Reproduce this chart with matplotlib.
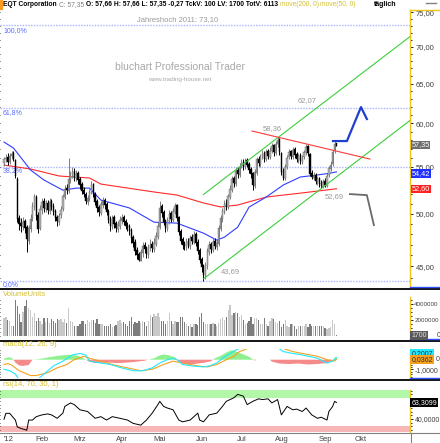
import numpy as np
import matplotlib
matplotlib.use("Agg")
import matplotlib.pyplot as plt
from matplotlib.lines import Line2D
from matplotlib.patches import Rectangle
from matplotlib.ticker import FixedLocator, FuncFormatter, NullFormatter

plt.rcParams['font.family'] = ['Liberation Sans', 'DejaVu Sans']

# --- daily OHLC, EQT Corporation, Jan - Sep 2012 ---
opens = [55.4, 55.8, 56.1, 55.5, 56.2, 56.5, 55.7, 53.6, 49.6, 49.1,
         48.7, 49.3, 48.7, 47.4, 48.5, 49.6, 50.7, 51.7, 49.9, 48.6,
         50.4, 51.3, 50.5, 51.1, 50.3, 51.3, 50.8, 50.3, 49.7, 49.2,
         49.9, 50.5, 51.7, 52.7, 52.4, 53.5, 54.1, 54.5, 53.7, 54.3,
         53.6, 53.1, 52.5, 52.1, 51.2, 51.5, 52.2, 53.1, 52.1, 51.3,
         50.7, 50.1, 50.9, 51.4, 51.0, 50.3, 49.5, 48.7, 49.7, 49.1,
         48.5, 48.8, 49.3, 49.7, 49.3, 48.9, 48.8, 48.4, 47.7, 47.3,
         46.5, 46.1, 45.5, 46.2, 47.0, 46.7, 46.0, 46.7, 47.1, 46.6,
         47.1, 47.7, 48.7, 50.8, 50.2, 49.3, 48.5, 49.3, 50.1, 49.4,
         50.2, 50.9, 49.7, 48.3, 47.5, 47.1, 46.8, 47.4, 46.9, 47.7,
         47.3, 48.0, 47.3, 46.5, 45.7, 45.0, 44.1, 45.0, 46.3, 47.1,
         46.5, 47.4, 46.8, 47.1, 48.5, 49.5, 50.2, 51.1, 50.7, 51.7,
         52.5, 53.7, 53.1, 54.6, 54.1, 55.1, 55.5, 54.9, 55.7, 55.3,
         54.7, 54.3, 52.9, 54.3, 55.9, 55.3, 56.1, 56.5, 55.8, 56.7,
         56.1, 56.7, 57.4, 56.5, 57.5, 58.1, 56.5, 54.5, 53.7, 54.9,
         56.1, 56.7, 56.1, 57.0, 56.4, 55.7, 56.3, 55.5, 56.1, 56.5,
         57.3, 56.4, 54.3, 53.8, 54.1, 53.3, 53.7, 53.2, 52.8, 53.4,
         52.9, 54.1, 54.7, 55.3, 56.7, 57.66]
highs = [56.1, 56.4, 56.5, 56.5, 56.8, 56.7, 55.9, 53.9, 49.9, 49.6,
         49.7, 49.5, 48.9, 48.9, 50.0, 51.2, 52.1, 51.9, 50.2, 50.9,
         51.6, 51.6, 51.4, 51.4, 51.6, 51.5, 51.1, 50.5, 49.9, 50.1,
         50.8, 52.1, 53.0, 53.1, 56.0, 54.5, 54.9, 54.8, 54.6, 54.5,
         53.9, 53.3, 52.8, 52.3, 51.9, 52.6, 53.4, 53.2, 52.3, 51.5,
         50.9, 51.3, 51.7, 51.6, 51.2, 50.5, 49.8, 49.9, 49.9, 49.3,
         49.3, 49.8, 50.0, 49.9, 49.5, 49.2, 49.0, 48.6, 47.9, 47.5,
         46.8, 46.3, 46.6, 47.3, 47.3, 46.9, 47.1, 47.5, 47.4, 47.6,
         48.2, 49.2, 51.3, 51.0, 50.4, 49.5, 49.7, 50.4, 50.3, 50.6,
         51.1, 51.0, 49.8, 48.5, 47.7, 47.4, 47.6, 47.6, 47.9, 48.0,
         48.3, 48.2, 47.5, 46.7, 45.9, 45.2, 45.4, 46.7, 47.4, 47.3,
         47.6, 47.6, 47.5, 48.9, 49.9, 50.6, 51.4, 51.5, 52.1, 53.0,
         54.0, 54.0, 54.9, 55.0, 55.4, 55.9, 55.8, 56.0, 56.0, 55.5,
         54.9, 54.4, 54.7, 56.1, 56.2, 56.4, 56.9, 56.7, 57.0, 57.0,
         57.2, 57.7, 57.6, 57.9, 58.36, 58.2, 56.6, 54.8, 55.3, 56.3,
         57.0, 56.9, 57.2, 57.2, 56.6, 56.5, 56.5, 56.3, 56.9, 57.6,
         57.4, 56.5, 54.6, 54.4, 54.3, 54.0, 53.9, 53.5, 53.6, 53.7,
         54.3, 55.1, 55.6, 56.9, 57.9, 57.66]
lows = [55.1, 55.5, 55.2, 55.3, 55.9, 55.6, 53.7, 49.2, 48.4, 48.2,
        48.4, 48.1, 46.3, 47.1, 48.2, 49.3, 50.4, 49.4, 48.1, 48.4,
        50.0, 50.2, 50.2, 50.0, 50.0, 50.4, 49.9, 49.3, 48.8, 48.9,
        49.6, 50.3, 51.5, 52.0, 52.2, 53.2, 53.8, 53.4, 53.4, 53.1,
        52.6, 52.0, 51.7, 51.0, 50.9, 51.3, 52.0, 51.7, 50.9, 50.2,
        49.8, 49.9, 50.6, 50.5, 49.9, 49.1, 48.3, 48.5, 48.6, 48.2,
        48.2, 48.5, 49.0, 48.9, 48.5, 48.3, 47.9, 47.2, 46.8, 46.0,
        45.7, 45.5, 45.5, 45.9, 46.2, 45.8, 45.8, 46.4, 46.3, 46.3,
        46.9, 47.5, 48.5, 49.7, 48.9, 48.2, 48.3, 49.0, 49.2, 49.2,
        50.0, 49.3, 47.9, 47.1, 46.6, 46.5, 46.5, 46.7, 46.6, 47.1,
        47.1, 46.9, 46.1, 45.3, 44.5, 43.69, 43.9, 44.8, 46.0, 46.2,
        46.3, 46.6, 46.5, 46.9, 48.3, 49.2, 50.0, 50.4, 50.5, 51.5,
        52.3, 52.8, 52.9, 53.8, 53.9, 54.8, 54.6, 54.7, 54.9, 54.3,
        53.8, 52.5, 52.7, 54.1, 55.1, 55.0, 55.8, 55.5, 55.6, 55.9,
        55.9, 56.5, 56.2, 56.3, 57.2, 56.3, 54.1, 53.5, 53.5, 54.7,
        55.8, 55.9, 55.9, 56.0, 55.5, 55.4, 55.3, 55.3, 55.9, 56.3,
        56.2, 54.0, 53.6, 53.5, 53.1, 53.0, 52.8, 52.69, 52.7, 52.8,
        52.8, 53.9, 54.5, 55.1, 56.5, 57.35]
closes = [55.8, 56.0, 55.5, 56.2, 56.4, 55.9, 54.0, 49.5, 49.0, 48.8,
          49.2, 48.6, 47.5, 48.6, 49.5, 50.8, 51.8, 49.8, 48.5, 50.5,
          51.2, 50.6, 51.0, 50.4, 51.2, 50.7, 50.2, 49.6, 49.3, 49.8,
          50.4, 51.8, 52.6, 52.5, 53.6, 54.0, 54.4, 53.8, 54.2, 53.5,
          53.0, 52.4, 52.0, 51.3, 51.6, 52.3, 53.0, 52.0, 51.2, 50.6,
          50.2, 51.0, 51.3, 50.9, 50.2, 49.4, 48.8, 49.6, 49.0, 48.6,
          48.9, 49.4, 49.6, 49.2, 48.8, 48.7, 48.3, 47.6, 47.2, 46.4,
          46.0, 45.6, 46.3, 46.9, 46.6, 46.1, 46.8, 47.0, 46.7, 47.2,
          47.8, 48.8, 50.6, 50.1, 49.2, 48.6, 49.4, 50.0, 49.5, 50.3,
          50.8, 49.6, 48.2, 47.4, 47.0, 46.9, 47.3, 47.0, 47.6, 47.4,
          47.9, 47.2, 46.4, 45.6, 44.9, 44.2, 45.1, 46.4, 47.0, 46.6,
          47.3, 46.9, 47.2, 48.6, 49.6, 50.3, 51.0, 50.8, 51.8, 52.6,
          53.6, 53.2, 54.5, 54.2, 55.0, 55.4, 55.0, 55.6, 55.2, 54.6,
          54.2, 53.0, 54.4, 55.8, 55.4, 56.0, 56.4, 55.9, 56.6, 56.2,
          56.8, 57.3, 56.6, 57.6, 58.0, 56.6, 54.4, 53.8, 55.0, 56.0,
          56.6, 56.2, 56.9, 56.3, 55.8, 56.2, 55.6, 56.0, 56.6, 57.2,
          56.5, 54.2, 53.9, 54.0, 53.4, 53.6, 53.1, 52.9, 53.3, 53.0,
          54.0, 54.8, 55.2, 56.6, 57.6, 57.35]
# volume in millions of shares
volume_mio = [2.2, 2.35, 2.0, 1.8, 1.25, 1.15,
              4.5, 3.7, 2.7, 1.75, 3.0, 3.7, 4.5, 3.5, 3.2, 2.3,
              2.8, 1.9, 2.2, 1.8, 1.45, 2.2, 1.75, 2.2, 1.65, 2.15, 1.9, 1.6,
              2.1, 2.0, 2.1, 1.75, 2.15, 1.65, 3.5, 1.85, 1.75, 1.25,
              1.2, 1.25, 1.5, 1.9, 1.85, 1.5, 2.0, 1.75, 2.0, 2.0, 1.6,
              2.1, 1.5, 1.45, 1.4, 1.25, 1.25, 1.15, 1.4, 1.05, 1.25, 1.3,
              1.85, 2.0, 1.65, 1.75, 1.5, 1.25, 1.85, 2.3, 1.45, 1.75,
              1.65, 1.9, 1.65, 1.85, 1.75, 1.25, 1.9, 2.6, 2.4, 2.7, 2.5,
              2.8, 2.4, 1.9, 1.85, 1.45, 1.85, 2.8, 1.85, 1.5, 1.9, 1.7,
              1.75, 2.4, 2.35, 1.75, 1.5, 1.25, 1.45, 1.05, 1.4, 1.5, 1.3,
              2.35, 2.8, 1.75, 1.4, 1.45, 1.5, 1.4, 1.65, 1.45, 1.25, 1.6,
              2.1, 2.3, 2.0, 2.4, 3.2, 3.9, 2.55, 2.9, 3.0, 2.8,
              2.35, 2.6, 2.0, 1.5, 1.65, 1.85, 2.3, 1.45, 2.2, 2.2,
              2.0, 1.45, 1.4, 2.2, 1.5, 1.25, 1.9, 2.2, 2.1, 1.75, 1.6,
              1.85, 1.05, 1.5, 2.0, 1.25, 1.05, 1.45, 1.5, 1.15, 0.85,
              1.15, 1.25, 1.25, 1.15, 1.45, 1.05, 1.5, 1.15, 1.25, 1.15,
              1.25, 1.15, 1.25, 1.15, 1.0, 0.85, 0.95, 1.05, 1.95, 1.4,
              0.0017]

# moving averages, read at a few bar indices
ma50_idx = [0, 5, 14, 21, 31, 38, 45, 51, 66, 79, 91, 105, 112, 116, 123, 129, 138, 147, 156, 165, 172, 175]
ma50_val = [57.78, 57.09, 54.62, 53.54, 52.45, 52.67, 52.67, 51.42, 50.61, 49.18, 49.09,
            48.11, 47.44, 47.72, 48.69, 50.70, 51.73, 53.00, 53.86, 54.08, 54.29, 54.42]
ma200_idx = [0, 14, 29, 45, 51, 79, 91, 105, 114, 123, 138, 156, 175]
ma200_val = [55.17, 54.73, 53.97, 53.75, 53.10, 52.26, 51.94, 51.12, 50.71, 50.91, 51.73, 52.14, 52.60]

# drawn trend lines (bar index, price)
channel_up = ([105, 214], [52.0, 71.5])
channel_low = ([105, 214], [43.88, 60.4])
resistance = ([130.5, 192.6], [59.08, 55.84])
proj_up = ([173.2, 180.5, 187.9, 191.0], [57.9, 57.9, 61.99, 60.52])
proj_down = ([182.1, 191.0, 194.7], [52.04, 51.93, 48.89])

# fibonacci retracement between 43.69 and 73.10
fib_low, fib_high = 43.69, 73.10
fib_ratios = [0.0, 0.382, 0.618, 1.0]

# MACD panel readings
macd_idx = [0, 3, 6, 8, 13, 15, 18, 21, 26, 31, 36, 40, 43, 45, 51, 56, 61, 65, 68, 73, 78, 82, 86,
            89, 91, 94, 99, 105, 108, 112, 115, 119, 122, 127, 135, 143, 147, 152, 157, 165, 170, 173, 175]
macd_val = [-1.0, -1.15, -1.5, -2.1, -2.4, -2.5, -2.0, -1.5, -0.65, -0.15, 0.5, 0.65, 0.5, -0.15,
            -0.35, -0.5, -0.8, -1.0, -1.15, -1.15, -0.85, -0.35, 0.0, 0.15, 0.0, -0.5, -0.65, -0.75,
            -0.65, -0.35, 0.15, 0.65, 1.0, 1.5, 1.8, 1.4, 0.85, 0.65, 0.5, 0.15, -0.35, -0.15, 0.2]
signal_idx = [0, 2, 4, 8, 14, 17, 23, 28, 33, 37, 42, 45, 51, 57, 65, 72, 78, 84, 89, 94, 102, 107,
              112, 117, 121, 124, 130, 137, 145, 152, 157, 165, 170, 174, 175]
signal_val = [-0.5, -0.4, -0.55, -1.15, -1.65, -1.65, -1.35, -0.85, -0.5, 0.0, 0.35, 0.15, -0.15,
              -0.5, -0.85, -1.15, -1.0, -0.5, -0.15, -0.35, -0.65, -0.75, -0.5, 0.0, 0.35, 0.85, 1.3,
              1.5, 1.3, 0.85, 0.65, 0.35, 0.0, -0.15, 0.04]
hist_idx = [0, 2, 4, 5, 6, 8, 10, 13, 15, 18, 21, 25, 30, 35, 38, 41, 43, 45, 48, 55, 60, 65, 70, 74,
            76, 79, 82, 84, 87, 90, 91, 92, 95, 98, 102, 106, 109, 110, 111, 114, 117, 120, 123, 126,
            129, 131, 132, 133, 140, 141, 145, 150, 155, 160, 165, 170, 172, 173, 174, 175]
hist_val = [0.1, 0.25, 0.2, 0.0, -0.3, -0.6, -0.65, -0.55, 0.0, 0.05, 0.15, 0.3, 0.45, 0.5, 0.45,
            0.25, 0.0, -0.2, -0.35, -0.3, -0.35, -0.3, -0.2, -0.1, 0.0, 0.15, 0.45, 0.55, 0.45, 0.25,
            0.0, -0.2, -0.45, -0.5, -0.4, -0.3, -0.15, 0.0, 0.15, 0.4, 0.75, 1.0, 0.8, 0.55, 0.3,
            0.05, -0.1, 0.0, 0.0, -0.2, -0.4, -0.45, -0.4, -0.5, -0.45, -0.35, -0.15, 0.0, 0.2, 0.35]

# RSI(14) readings
rsi_idx = [0, 1, 3, 6, 7, 9, 11, 12, 13, 15, 17, 20, 23, 25, 28, 31, 32, 35, 37, 40, 44, 48, 51, 54,
           57, 61, 65, 68, 72, 75, 78, 81, 82, 84, 86, 89, 92, 94, 98, 102, 103, 105, 108, 112, 115,
           117, 121, 123, 126, 128, 131, 134, 136, 139, 141, 144, 146, 149, 152, 154, 157, 159, 162,
           165, 167, 170, 171, 173, 174, 175]
rsi_val = [39.6, 48, 48, 38.5, 28.8, 26.5, 25, 24, 38.5, 38.5, 43.3, 45.8, 47.2, 45.8, 41, 48.3,
           57.8, 62.7, 60.3, 53, 50.6, 41, 43.3, 38.5, 43.3, 41, 38.5, 33.8, 31.3, 38.5, 48.3, 60.3,
           65, 57.8, 55.5, 53, 38.5, 36, 38.5, 48.3, 38.5, 36, 45.8, 48.3, 57.8, 65, 70, 74.8, 72.3,
           60.3, 65, 68.5, 67.5, 68.5, 62.7, 67.5, 45.8, 57.8, 53, 54, 50.6, 55.5, 45.8, 41, 42.5,
           38.5, 50.6, 57.8, 65, 63.31]

month_starts = [0, 20, 40, 62, 82, 104, 125, 146, 169, 188]
month_names = ["'12", "Feb", "Mrz", "Apr", "Mai", "Jun", "Jul", "Aug", "Sep", "Okt"]

# --- layout in pixels ---
W, H = 440, 443
fig = plt.figure(figsize=(W / 100, H / 100), dpi=100)
fig.patch.set_facecolor('white')


def px_axes(x0, y0, x1, y1):
    return fig.add_axes([x0 / W, 1 - y1 / H, (x1 - x0) / W, (y1 - y0) / H])


def ptxt(target, x, y, s, **kw):
    return target.text(x / W, 1 - y / H, s, transform=fig.transFigure, **kw)


def hline_px(y, x0, x1, **kw):
    fig.add_artist(Line2D([x0 / W, x1 / W], [1 - y / H, 1 - y / H], transform=fig.transFigure, **kw))


def vline_px(x, y0, y1, **kw):
    fig.add_artist(Line2D([x / W, x / W], [1 - y0 / H, 1 - y1 / H], transform=fig.transFigure, **kw))


YELLOW = '#f0c419'
XLIM = (-2.1, 213.7)
de = lambda v, d=2: f"{v:.{d}f}".replace('.', ',')

ax = px_axes(0, 10, 410, 287)
axv = px_axes(0, 297, 410, 340)
axm = px_axes(0, 349, 410, 378)
axr = px_axes(0, 390, 410, 432)

for a in (ax, axv, axm, axr):
    a.set_xlim(*XLIM)
    a.set_facecolor('white')
    for s in ('top', 'left', 'bottom'):
        a.spines[s].set_visible(False)
    a.spines['right'].set_color(YELLOW)
    a.spines['right'].set_linewidth(1.0)
    a.set_xticks([])
    a.yaxis.set_ticks_position('both')
    a.tick_params(axis='y', which='both', direction='out', labelleft=False, labelright=True,
                  labelsize=5.0, labelcolor='#404040', pad=1.5, width=0.6)
    a.tick_params(axis='y', which='major', length=2)
    a.tick_params(axis='y', which='minor', length=1.5)
ax.tick_params(axis='y', labelsize=5.5, pad=2)
axv.tick_params(axis='y', labelsize=4.5, pad=1)

# --- price panel ---
idx = np.arange(len(closes))
o = np.array(opens)
c = np.array(closes)
up = c >= o
ax.set_yscale('log')
ax.set_ylim(43.17, 75.36)
ax.yaxis.set_major_locator(FixedLocator([45, 50, 55, 60, 65, 70, 75]))
ax.yaxis.set_major_formatter(FuncFormatter(lambda v, p: de(v)))
ax.yaxis.set_minor_locator(FixedLocator(np.arange(44, 76)))
ax.yaxis.set_minor_formatter(NullFormatter())

for r in fib_ratios:
    lvl = fib_low + r * (fib_high - fib_low)
    ax.axhline(lvl, color='#a8b4ff', lw=1.0, ls=(0, (1, 1)), zorder=1)
fib_col = '#5a6cff'
ptxt(ax, 3, 31, "100,0%", color=fib_col, fontsize=5, va='center', zorder=1.5)
ptxt(ax, 3, 113, "61,8%", color=fib_col, fontsize=5, va='center', zorder=1.5)
ptxt(ax, 3, 171, "38,2%", color=fib_col, fontsize=5, va='center', zorder=1.5)
ptxt(ax, 3, 285, "0,0%", color=fib_col, fontsize=5, va='center', zorder=1.5)

ptxt(ax, 180, 67, "bluchart Professional Trader", color='#a8a8a8', fontsize=7.5, ha='center', va='center')
ptxt(ax, 180, 80, "www.trading-house.net", color='#a8a8a8', fontsize=4.5, ha='center', va='center')

grey = '#9a9a9a'
ptxt(ax, 178, 20, "Jahreshoch 2011: 73,10", color=grey, fontsize=5.5, ha='center', va='center')
ptxt(ax, 307, 101, "62,07", color=grey, fontsize=5.5, ha='center', va='center')
ptxt(ax, 272, 129, "58,36", color=grey, fontsize=5.5, ha='center', va='center')
ptxt(ax, 334, 197, "52,69", color=grey, fontsize=5.5, ha='center', va='center')
ptxt(ax, 230, 272, "43,69", color=grey, fontsize=5.5, ha='center', va='center')

ax.plot(ma200_idx, ma200_val, color='#ff2a2a', lw=0.8, zorder=2)
ax.plot(ma50_idx, ma50_val, color='#2f3dff', lw=0.8, zorder=2)

wick_cols = np.where(up, '#808080', '#000000')
ax.vlines(idx, lows, highs, colors=wick_cols, lw=0.7, zorder=3)
body_lo = np.minimum(o, c)
body_h = np.maximum(np.abs(c - o), 0.05)
ax.bar(idx, body_h, bottom=body_lo, width=0.75, color=np.where(up, '#b4b4b4', '#000000'),
       edgecolor=np.where(up, '#606060', '#000000'), linewidth=0.3, zorder=4)

ax.plot(*channel_up, color='#3ccf3c', lw=0.8, zorder=5)
ax.plot(*channel_low, color='#3ccf3c', lw=0.8, zorder=5)
ax.plot(*resistance, color='#ff3a3a', lw=0.8, zorder=5)
ax.plot(*proj_up, color='#1f3fd0', lw=1.6, zorder=5)
ax.plot(*proj_down, color='#6a6a6a', lw=1.3, zorder=5)

# value tags on the price axis
tag = dict(fontsize=5.3, va='center', ha='left', zorder=10)
ptxt(fig, 411.5, 145, de(closes[-1]), color='white',
     bbox=dict(boxstyle='square,pad=0.1', fc='#6e6e6e', ec='none'), **tag)
ptxt(fig, 411.5, 173.5, de(ma50_val[-1]), color='white',
     bbox=dict(boxstyle='square,pad=0.1', fc='#2030ff', ec='none'), **tag)
ptxt(fig, 411.5, 189, de(ma200_val[-1]), color='white',
     bbox=dict(boxstyle='square,pad=0.1', fc='#ff2020', ec='none'), **tag)

# --- volume panel ---
axv.set_ylim(-0.571, 4.89)
axv.bar(idx, volume_mio, width=0.7, color=np.where(up, '#c8c8c8', '#7c7c7c'), linewidth=0)
axv.set_yticks([0, 2, 4])
axv.set_yticklabels(['', '2000000', '4000000'])
axv.yaxis.set_minor_locator(FixedLocator(np.arange(0, 5, 0.5)))
axv.yaxis.set_minor_formatter(NullFormatter())
ptxt(fig, 436.5, 335.5, "0", color='#404040', fontsize=5, va='center')
ptxt(fig, 411.5, 335.5, "1700", color='#e0e0e0', fontsize=5, va='center', zorder=10,
     bbox=dict(boxstyle='square,pad=0.15', fc='#5a5a5a', ec='none'))
ptxt(fig, 3, 294, "VolumeUnits", color='#d4c030', fontsize=5.5, va='center')

# --- MACD panel ---
axm.set_ylim(-1.906, 1.115)
hv = np.array(hist_val)
axm.fill_between(hist_idx, 0, hv, where=hv >= 0, interpolate=True, color='#8ef08e', lw=0)
axm.fill_between(hist_idx, 0, hv, where=hv <= 0, interpolate=True, color='#f58a8a', lw=0)
axm.plot(signal_idx, signal_val, color='#f5a020', lw=0.8)
axm.plot(macd_idx, macd_val, color='#20e8ff', lw=0.8)
axm.set_yticks([-1, 0])
axm.set_yticklabels(['-1,0000', ''])
axm.yaxis.set_minor_locator(FixedLocator(np.arange(-1.75, 1.2, 0.25)))
axm.yaxis.set_minor_formatter(NullFormatter())
ptxt(fig, 411.5, 353.5, "0,2007", color='#303030', fontsize=5, va='center', zorder=10,
     bbox=dict(boxstyle='square,pad=0.15', fc='#20e8ff', ec='none'))
ptxt(fig, 411.5, 359.5, "0,0362", color='#303030', fontsize=5, va='center', zorder=11,
     bbox=dict(boxstyle='square,pad=0.15', fc='#f5a020', ec='none'))
ptxt(fig, 436, 359.5, "0", color='#404040', fontsize=5, va='center')
ptxt(fig, 3, 345, "macd(12, 26, 9)", color='#d4c030', fontsize=5.5, va='center')

# --- RSI panel ---
axr.set_ylim(21.6, 81.0)
axr.axhspan(70, 100, color='#b2f7a8', lw=0, zorder=0)
axr.axhspan(0, 30, color='#f9b6b6', lw=0, zorder=0)
axr.plot(rsi_idx, rsi_val, color='#000000', lw=0.7)
axr.set_yticks([40])
axr.set_yticklabels(['40,0000'])
axr.yaxis.set_minor_locator(FixedLocator(np.arange(25, 81, 5)))
axr.yaxis.set_minor_formatter(NullFormatter())
ptxt(fig, 411.5, 402.5, "63,3099", color='white', fontsize=5, va='center', zorder=10,
     bbox=dict(boxstyle='square,pad=0.15', fc='#000000', ec='none'))
ptxt(fig, 3, 385, "rsi(14, 70, 30, 1)", color='#d4c030', fontsize=5.5, va='center')

axr.set_xticks(month_starts)
axr.set_xticklabels(month_names)
axr.tick_params(axis='x', length=0, labelsize=5.5, labelcolor='#404040', pad=3)
axr.get_xticklabels()[0].set_horizontalalignment('left')

# --- frame lines ---
for y in (288.5, 340.5, 379.5):
    hline_px(y, 0, W, color='black', lw=1.3)
hline_px(432.5, 0, W, color='#808080', lw=0.8)
vline_px(410.5, 432.5, H, color='#808080', lw=0.8)
hline_px(10, 410, W, color=YELLOW, lw=1.0)
for y in (287, 339, 378):
    hline_px(y, 410, W, color='#3050ff', lw=1.0)
fig.add_artist(Rectangle((0, 1 - 9 / H), 2 / W, 9 / H, transform=fig.transFigure, color='#ff9a20'))

# --- header line ---
fig.canvas.draw()
renderer = fig.canvas.get_renderer()
x_cur = 3
head = [("EQT Corporation ", 'black', 'bold'), ("C: 57,35 ", '#808080', 'normal'),
        ("O: 57,66 H: 57,66 L: 57,35 -0,27 TckV: 100 LV: 1700 TotV: 6113 ", 'black', 'bold'),
        ("move(200, 0) ", '#d4c030', 'normal'), ("move(50, 0)", '#d4c030', 'normal')]
for s, col, wt in head:
    t = ptxt(fig, x_cur, 4.5, s, color=col, fontsize=4.8, fontweight=wt, va='center')
    bb = t.get_window_extent(renderer)
    x_cur += bb.width
ptxt(fig, 385, 4.5, "täglich", color='black', fontsize=5.0, fontweight='bold', va='center', ha='center')
hline_px(3, 426, 436, color='#808080', lw=1.0)

fig.savefig('out.png', dpi=100)
